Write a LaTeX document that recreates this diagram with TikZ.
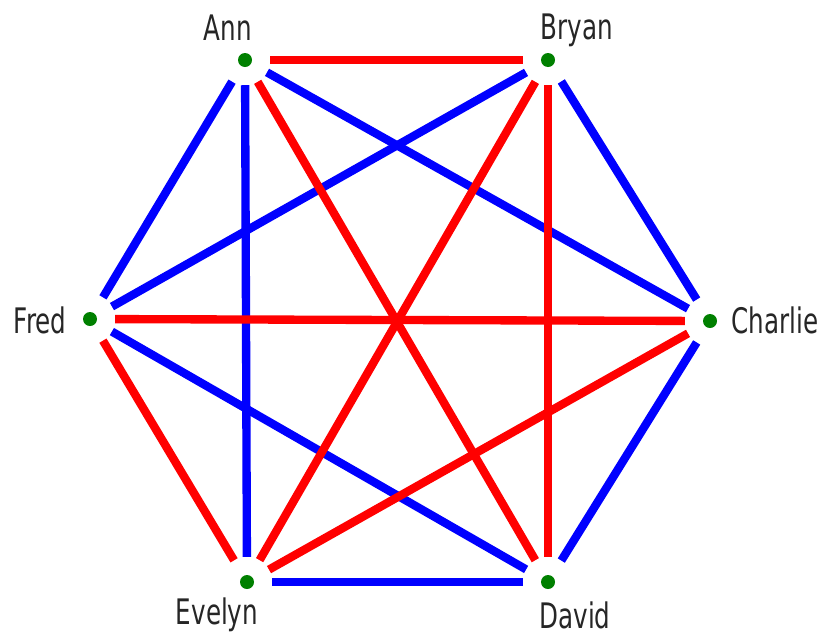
\documentclass[tikz,border=0pt]{standalone}
\usepackage{fontspec}
\newfontfamily\namefont[FakeStretch=0.7]{DejaVu Sans}
\usetikzlibrary{positioning}

\begin{document}
\begin{tikzpicture}[
    x=0.03cm, y=-0.03cm,
    person/.style={
        circle,
        fill=green!50!black,
        inner sep=0pt,
        minimum size=0.42cm
    },
    namelbl/.style={
        inner sep=0pt,
        anchor=base,
        text=black!85,
        font=\namefont\fontsize{30}{36}\selectfont
    },
    redge/.style={draw=red, line width=0.25cm, shorten <=0.54cm, shorten >=0.54cm},
    bedge/.style={draw=blue, line width=0.25cm, shorten <=0.54cm, shorten >=0.54cm}
]
\useasboundingbox (0,0) rectangle (823,637);

% People
\node[person] (ann) at (245,60) {};
\node[person] (bryan) at (548,60) {};
\node[person] (charlie) at (710,321) {};
\node[person] (david) at (548,582) {};
\node[person] (evelyn) at (247,582) {};
\node[person] (fred) at (90,319) {};

% Names
\node[namelbl] (annlbl) at (228,40) {Ann};
\node[namelbl] (bryanlbl) at (577,39) {Bryan};
\node[namelbl] (charlielbl) at (775,333) {Charlie};
\node[namelbl] (davidlbl) at (575,628) {David};
\node[namelbl] (evelynlbl) at (217,624) {Evelyn};
\node[namelbl] (fredlbl) at (40,333) {Fred};

% Blue edges
\draw[bedge] (ann) -- (fred);
\draw[bedge] (ann) -- (evelyn);
\draw[bedge] (ann) -- (charlie);
\draw[bedge] (bryan) -- (charlie);
\draw[bedge] (bryan) -- (fred);
\draw[bedge] (charlie) -- (david);
\draw[bedge] (david) -- (evelyn);
\draw[bedge] (fred) -- (david);

% Red edges
\draw[redge] (ann) -- (bryan);
\draw[redge] (ann) -- (david);
\draw[redge] (bryan) -- (david);
\draw[redge] (bryan) -- (evelyn);
\draw[redge] (fred) -- (charlie);
\draw[redge] (fred) -- (evelyn);
\draw[redge] (charlie) -- (evelyn);

\end{tikzpicture}
\end{document}
